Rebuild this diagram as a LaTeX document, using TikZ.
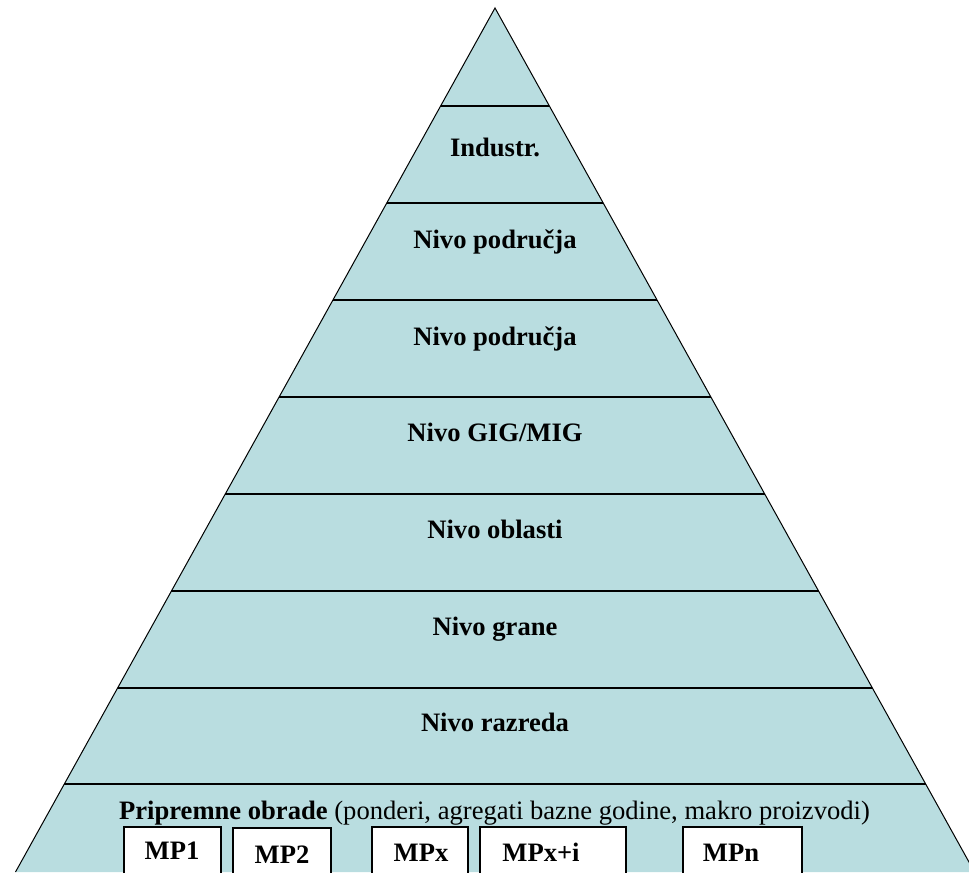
\documentclass[tikz,border=0pt]{standalone}
\usepackage{fontspec}
\setmainfont{Liberation Serif}
\usetikzlibrary{calc}
\definecolor{pyrfill}{RGB}{185,221,224}

\begin{document}
\begin{tikzpicture}[x=0.5pt,y=-0.5pt,
  txt/.style={font=\fontsize{13.3}{16}\selectfont,anchor=base,inner sep=0pt},
  lvl/.style={txt,font=\fontsize{13.3}{16}\selectfont\bfseries},
  mpbox/.style={draw=black,line width=0.75pt,fill=white}]
  \useasboundingbox (0,0) rectangle (969,876);
  \clip (0,0) rectangle (969,872);
  % pyramid
  \coordinate (apex) at (495,8);
  \coordinate (bl) at (15.5,872);
  \coordinate (br) at (974.5,872);
  \fill[pyrfill] (apex) -- (bl) -- (br) -- cycle;
  \draw[line width=0.5pt] (bl) -- (apex) -- (br);
  \foreach \y in {106,203,300,397,494,591,688,784}
    \draw[line width=1pt] ({495-(\y-8)*0.555},\y) -- ({495+(\y-8)*0.555},\y);
  % levels
  \node[lvl] (ind) at (495,157) {Industr.};
  \node[lvl] (pod1) at (495,249) {Nivo područja};
  \node[lvl] (pod2) at (495,346) {Nivo područja};
  \node[lvl] (gig) at (495,442) {Nivo GIG/MIG};
  \node[lvl] (obl) at (495,539) {Nivo oblasti};
  \node[lvl] (gra) at (495,635) {Nivo grane};
  \node[lvl] (raz) at (495,731) {Nivo razreda};
  \node[txt] (prip) at (494.5,819) {\textbf{Pripremne obrade} (ponderi, agregati bazne godine, makro proizvodi)};
  % macro products
  \draw[mpbox] (124,827) rectangle (221,890);
  \draw[mpbox] (233,828) rectangle (331,890);
  \draw[mpbox] (372,827) rectangle (468,890);
  \draw[mpbox] (480,827) rectangle (626,890);
  \draw[mpbox] (683,827) rectangle (802,890);
  \node[lvl] (mp1) at (172,859) {MP1};
  \node[lvl] (mp2) at (282,863) {MP2};
  \node[lvl] (mpx) at (421,861) {MPx};
  \node[lvl] (mpxi) at (541,861) {MPx+i};
  \node[lvl] (mpn) at (731,861) {MPn};
\end{tikzpicture}
\end{document}
